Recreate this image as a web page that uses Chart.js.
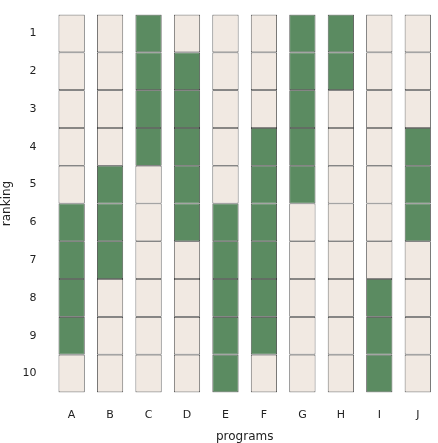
<!DOCTYPE html>
<html><head><meta charset="utf-8">
<script src="https://cdn.jsdelivr.net/npm/chart.js@4"></script>
<style>html,body{margin:0;background:#fff}</style>
</head><body>
<canvas id="c" width="438" height="443"></canvas>
<script>
const programs = ['A','B','C','D','E','F','G','H','I','J'];
const rankings = [1,2,3,4,5,6,7,8,9,10];
// green band per program (first and last ranking)
const greenFrom = [6,5,1,2,6,4,1,1,8,4];
const greenTo   = [9,7,4,6,10,9,5,2,10,6];

const GREEN = '#5b8b61', BEIGE = '#f1e9e2';

const datasets = rankings.map(r => ({
  label: 'r' + r,
  data: programs.map(() => [r - 0.5, r + 0.5]),
  backgroundColor: programs.map((p, i) => (r >= greenFrom[i] && r <= greenTo[i]) ? GREEN : BEIGE),
  borderColor: '#333',
  borderWidth: 0.8,
  borderSkipped: false,
  grouped: false,
  barPercentage: 0.68,
  categoryPercentage: 1
}));

new Chart(document.getElementById('c'), {
  type: 'bar',
  data: { labels: programs, datasets },
  options: {
    responsive: false, animation: false,
    layout: { padding: { top: -11, right: 1, bottom: -1 } },
    plugins: { legend: { display: false }, tooltip: { enabled: false } },
    scales: {
      x: {
        grid: { display: false }, border: { display: false },
        ticks: { color: '#222', font: { family: 'DejaVu Sans', size: 11 }, padding: 8 },
        title: { display: true, text: 'programs', color: '#222', font: { family: 'DejaVu Sans', size: 12 }, padding: 0 }
      },
      y: {
        reverse: true, min: 0.5, max: 10.5,
        afterBuildTicks: ax => { ax.ticks = rankings.map(v => ({ value: v })); },
        grid: { display: false }, border: { display: false },
        ticks: { color: '#222', font: { family: 'DejaVu Sans', size: 11 }, padding: 8 },
        title: { display: true, text: 'ranking', color: '#222', font: { family: 'DejaVu Sans', size: 12 }, padding: 0 }
      }
    }
  }
});
</script>
</body></html>
